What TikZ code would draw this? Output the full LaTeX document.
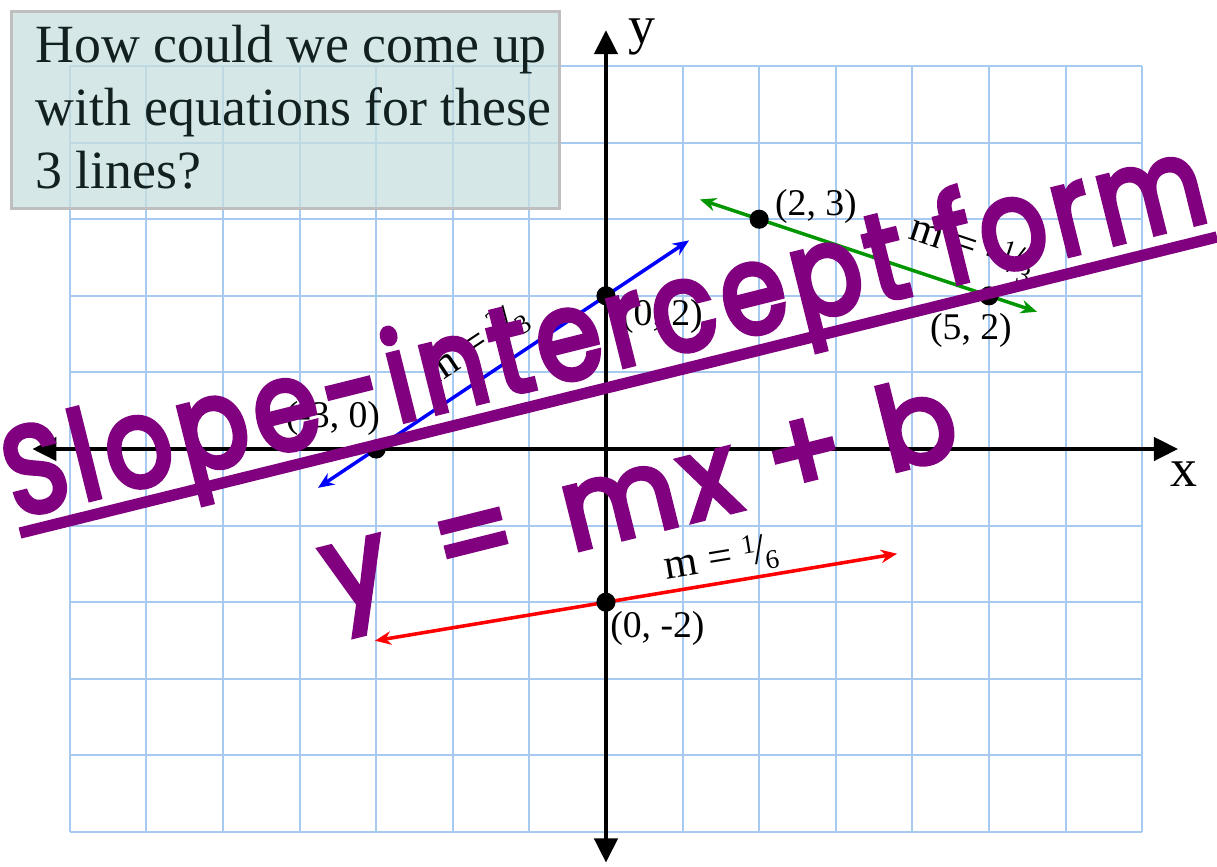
\documentclass[tikz,border=0pt]{standalone}
\usepackage{fontspec}
\setmainfont{Liberation Serif}
\newfontfamily\hand{Poppins}[FakeBold=4.5, LetterSpace=7]
\usepackage{graphicx}
\usetikzlibrary{arrows.meta}
\definecolor{gridblue}{RGB}{166,202,240}
\definecolor{boxfill}{RGB}{200,223,223}
\definecolor{boxline}{RGB}{190,190,190}
\definecolor{txtdark}{RGB}{18,32,32}
\definecolor{hpurple}{RGB}{128,0,128}
\definecolor{lgreen}{RGB}{0,150,0}
\newcommand{\sfr}[2]{\raisebox{0.62ex}{\fontsize{10}{11}\selectfont #1}\kern-0.05em/\kern-0.04em\raisebox{-0.35ex}{\fontsize{10}{11}\selectfont #2}}
\begin{document}
\begin{tikzpicture}[
  gridline/.style={gridblue, line width=0.75pt},
  axis/.style={line width=1.8pt, arrows={Triangle[length=9pt,width=8.5pt]-Triangle[length=9pt,width=8.5pt]}},
  slopeline/.style={line width=1.3pt, arrows={Stealth[length=6pt,width=5pt]-Stealth[length=6pt,width=5pt]}},
  dot/.style={circle, fill=black, inner sep=0pt, minimum size=0.25cm},
  coordlabel/.style={font=\fontsize{14}{16}\selectfont, inner sep=0pt},
  slopelabel/.style={font=\fontsize{16}{18}\selectfont, inner sep=0pt},
  handtext/.style={text=hpurple, inner sep=0pt, rotate=14, anchor=base west},
  axislabel/.style={font=\fontsize{20}{24}\selectfont, inner sep=0pt}
]
\useasboundingbox (-7.911,-5.444) rectangle (7.977,5.862);
\fill[white] (-7.911,-5.444) rectangle (7.977,5.862);
% grid
\draw[gridline] (-7,-5) grid (7,5);
% question box
\node[draw=boxline, line width=1.2pt, fill=boxfill, fill opacity=0.75, draw opacity=1,
      minimum width=7.154cm, minimum height=2.572cm, anchor=north west, inner sep=0pt]
      (qbox) at (-7.781,5.731) {};
\node[anchor=base west, inner sep=0pt, text=txtdark, font=\fontsize{20}{23.4}\selectfont]
      (qtext) at (-7.454,5.052) {\parbox[t]{8cm}{How could we come up\\with equations for these\\3 lines?}};
% axes
\coordinate (xl) at (-7.49,0);
\coordinate (xr) at (7.47,0);
\coordinate (yb) at (0,-5.40);
\coordinate (yt) at (0,5.47);
\draw[axis] (xl) -- (xr);
\draw[axis] (yb) -- (yt);
\node[axislabel] (ylab) at (0.47,5.38) {y};
\node[axislabel] (xlab) at (7.552,-0.333) {x};
% lines
\coordinate (g1) at (1.227,3.258);
\coordinate (g2) at (5.627,1.791);
\coordinate (b1) at (-3.76,-0.507);
\coordinate (b2) at (1.084,2.723);
\coordinate (r1) at (-3.016,-2.503);
\coordinate (r2) at (3.80,-1.367);
\draw[slopeline, lgreen] (g1) -- (g2);
\draw[slopeline, blue] (b1) -- (b2);
\draw[slopeline, red] (r1) -- (r2);
% points
\node[dot] (p23) at (2,3) {};
\node[dot] (p52) at (5,2) {};
\node[dot] (p02) at (0,2) {};
\node[dot] (pm30) at (-3,0) {};
\node[dot] (p0m2) at (0,-2) {};
% point labels
\node[coordlabel] (l23) at (2.742,3.172) {(2, 3)};
\node[coordlabel] (l52) at (4.765,1.554) {(5, 2)};
\node[coordlabel] (l02) at (0.731,1.736) {(0, 2)};
\node[coordlabel] (lm30) at (-3.564,0.405) {(-3, 0)};
\node[coordlabel] (l0m2) at (0.672,-2.337) {(0, -2)};
% slope labels
\node[slopelabel, rotate=9.46] (sred) at (1.501,-1.436) {m = \sfr{1}{6}};
\node[slopelabel, rotate=33.69] (sblue) at (-1.70,1.36) {m = \sfr{2}{3}};
\node[slopelabel, rotate=-18.43] (sgreen) at (4.778,2.624) {m = -\sfr{1}{3}};
% handwritten overlay
\coordinate (u1) at (-7.650,-1.097);
\coordinate (u2) at (7.977,2.768);
\draw[hpurple, line width=4.2pt] (u1) -- (u2);
\node[handtext] (title) at (-7.715,-0.901)
  {\resizebox{458pt}{35pt}{\hand Slope-intercept form}};
\node[handtext] (formula) at (-3.564,-2.115)
  {\resizebox{241pt}{31.5pt}{\hand y\hspace{0.45em}=\hspace{0.45em}mx\hspace{0.3em}+\hspace{0.35em}b}};
\end{tikzpicture}
\end{document}
